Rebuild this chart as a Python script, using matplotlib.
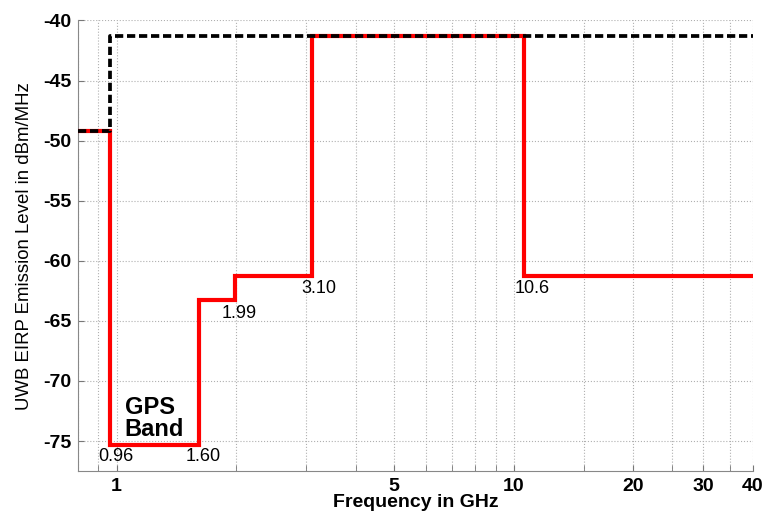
import numpy as np
import matplotlib.pyplot as plt
from matplotlib.ticker import FixedLocator, NullFormatter

plt.rcParams['font.family'] = ['Liberation Sans', 'DejaVu Sans']

# Indoor UWB mask (red): band edges in GHz and level in each band
RED_EDGES = [0.8, 0.96, 1.61, 1.99, 3.1, 10.6, 40]
RED_LEVELS = [-49.2, -75.3, -63.3, -61.3, -41.3, -61.3]

# Part 15 general limit (black dashed)
BLACK_EDGES = [0.8, 0.96, 40]
BLACK_LEVELS = [-49.2, -41.3]

# Edge labels: text, x, y (data)
EDGE_LABELS = ["0.96", "1.60", "1.99", "3.10", "10.6"]
EDGE_LABEL_X = [0.994, 1.65, 2.04, 3.22, 11.1]
EDGE_LABEL_Y = [-76.3, -76.3, -64.4, -62.3, -62.3]

X_TICKS = [1, 5, 10, 20, 30, 40]
Y_TICKS = [-40, -45, -50, -55, -60, -65, -70, -75]


def steps(edges, levels):
    x = []
    y = []
    for i, lv in enumerate(levels):
        x += [edges[i], edges[i + 1]]
        y += [lv, lv]
    return np.array(x), np.array(y)


fig = plt.figure(figsize=(7.66, 5.12), dpi=100)
ax = fig.add_axes([0.102, 0.08, 0.881, 0.88])

rx, ry = steps(RED_EDGES, RED_LEVELS)
bx, by = steps(BLACK_EDGES, BLACK_LEVELS)
ax.plot(rx, ry, color='#ff0000', linewidth=3.0, solid_joinstyle='miter', zorder=3)
ax.plot(bx, by, color='black', linewidth=2.7, linestyle=(0, (2.2, 1.0)), zorder=4)

ax.set_xscale('log')
ax.set_xlim(0.8, 40)
ax.set_ylim(-77.5, -40)

ax.xaxis.set_major_locator(FixedLocator(X_TICKS))
ax.set_xticklabels([str(t) for t in X_TICKS])
minor = [0.8, 0.9] + [v for v in range(2, 10) if v != 5] + [15, 25, 35]
ax.xaxis.set_minor_locator(FixedLocator(minor))
ax.xaxis.set_minor_formatter(NullFormatter())
ax.set_yticks(Y_TICKS)
ax.set_yticklabels([str(t) for t in Y_TICKS])

for lbl in ax.get_xticklabels() + ax.get_yticklabels():
    lbl.set_fontweight('bold')
    lbl.set_fontsize(14)

ax.grid(True, which='both', axis='x', color='#b0b0b0', linestyle=':', linewidth=0.8)
ax.grid(True, which='major', axis='y', color='#b0b0b0', linestyle=':', linewidth=0.8)
ax.tick_params(which='both', direction='in', length=4, color='#777777')
ax.tick_params(axis='x', pad=5)
ax.tick_params(axis='y', pad=5)

for side in ['top', 'right']:
    ax.spines[side].set_visible(False)
for side in ['left', 'bottom']:
    ax.spines[side].set_color('#888888')

ax.set_xlabel("Frequency in GHz", fontsize=14, fontweight='bold', labelpad=-1)
ax.set_ylabel("UWB EIRP Emission Level in dBm/MHz", fontsize=13.4, labelpad=7)

for txt, x, y in zip(EDGE_LABELS, EDGE_LABEL_X, EDGE_LABEL_Y):
    ax.text(x, y, txt, fontsize=13, ha='center', va='center')

ax.text(1.047, -73.1, "GPS\nBand", fontsize=17, fontweight='bold',
        ha='left', va='center', linespacing=0.95)

fig.savefig("out.png", dpi=100)
